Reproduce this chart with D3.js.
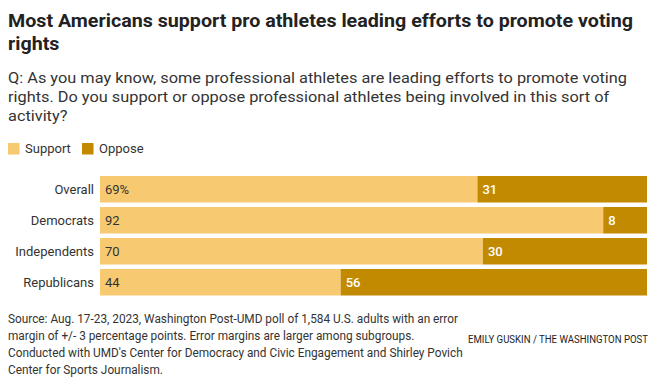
<!DOCTYPE html>
<html>
<head>
<meta charset="utf-8">
<script src="https://cdn.jsdelivr.net/npm/d3@7"></script>
<style>
  html, body { margin: 0; padding: 0; background: #fff; }
  svg { display: block; }
</style>
</head>
<body>
<svg id="chart" width="661" height="383"></svg>
<script>
const categories = ["Overall", "Democrats", "Independents", "Republicans"];
const support = [69, 92, 70, 44];
const oppose = [31, 8, 30, 56];
const seriesNames = ["Support", "Oppose"];
const colors = ["#f7ca71", "#c18a00"];

const titleLines = ["Most Americans support pro athletes leading efforts to promote voting", "rights"];
const subtitleLines = [
  "Q: As you may know, some professional athletes are leading efforts to promote voting",
  "rights. Do you support or oppose professional athletes being involved in this sort of",
  "activity?"
];
const sourceLines = [
  "Source: Aug. 17-23, 2023, Washington Post-UMD poll of 1,584 U.S. adults with an error",
  "margin of +/- 3 percentage points. Error margins are larger among subgroups.",
  "Conducted with UMD's Center for Democracy and Civic Engagement and Shirley Povich",
  "Center for Sports Journalism."
];
const credit = "EMILY GUSKIN / THE WASHINGTON POST";

const svg = d3.select("#chart");
const FONT = "Roboto, 'Liberation Sans', sans-serif";

// text block helper: scales horizontally so the first line matches target width
function block(lines, x, y0, lh, size, weight, color, targetW) {
  const g = svg.append("g");
  const ts = lines.map((s, i) => g.append("text")
    .attr("x", x).attr("y", y0 + i * lh)
    .attr("font-family", FONT).attr("font-size", size)
    .attr("font-weight", weight).attr("fill", color)
    .text(s));
  if (targetW) {
    const ratio = targetW / ts[0].node().getComputedTextLength();
    ts.forEach(t => {
      const w = t.node().getComputedTextLength();
      t.attr("textLength", w * ratio).attr("lengthAdjust", "spacingAndGlyphs");
    });
  }
  return ts;
}

block(titleLines, 8, 27, 23, 17.5, 700, "#222", 625);
block(subtitleLines, 8, 83, 19, 15.5, 400, "#333", 619);
block(sourceLines, 8, 323, 17, 12, 400, "#333", 450);
block([credit], 468, 343, 17, 10, 400, "#222", 180);

// legend
const legend = svg.append("g");
const legX = [8, 82];
seriesNames.forEach((n, i) => {
  legend.append("rect").attr("x", legX[i]).attr("y", 143).attr("width", 11.5).attr("height", 11.5).attr("fill", colors[i]);
  legend.append("text").attr("x", legX[i] + 17).attr("y", 153)
    .attr("font-family", FONT).attr("font-size", 13).attr("fill", "#333").text(n);
});

// scales
const x = d3.scaleLinear().domain([0, 100]).range([100, 647]);
const y = d3.scaleBand().domain(categories).range([176, 295.5]).paddingInner(0.145).paddingOuter(0);

const rows = categories.map((c, i) => ({ cat: c, s: support[i], o: oppose[i] }));

const g = svg.append("g");
// support bars
g.selectAll("rect.sup").data(rows).join("rect").attr("class", "sup")
  .attr("x", x(0)).attr("y", d => y(d.cat))
  .attr("width", d => x(d.s) - x(0)).attr("height", y.bandwidth())
  .attr("fill", colors[0]);
// oppose bars
g.selectAll("rect.opp").data(rows).join("rect").attr("class", "opp")
  .attr("x", d => x(d.s)).attr("y", d => y(d.cat))
  .attr("width", d => x(d.s + d.o) - x(d.s)).attr("height", y.bandwidth())
  .attr("fill", colors[1]);

// category labels
g.selectAll("text.cat").data(rows).join("text").attr("class", "cat")
  .attr("x", 94).attr("y", d => y(d.cat) + y.bandwidth() / 2).attr("dy", "0.36em")
  .attr("text-anchor", "end").attr("font-family", FONT).attr("font-size", 13).attr("fill", "#333")
  .text(d => d.cat);

// value labels
g.selectAll("text.sv").data(rows).join("text").attr("class", "sv")
  .attr("x", x(0) + 5).attr("y", d => y(d.cat) + y.bandwidth() / 2).attr("dy", "0.36em")
  .attr("font-family", FONT).attr("font-size", 13).attr("fill", "#333")
  .text((d, i) => i === 0 ? d.s + "%" : d.s);
g.selectAll("text.ov").data(rows).join("text").attr("class", "ov")
  .attr("x", d => x(d.s) + 5).attr("y", d => y(d.cat) + y.bandwidth() / 2).attr("dy", "0.36em")
  .attr("font-family", FONT).attr("font-size", 13).attr("font-weight", 500).attr("fill", "#fff")
  .text(d => d.o);
</script>
</body>
</html>
